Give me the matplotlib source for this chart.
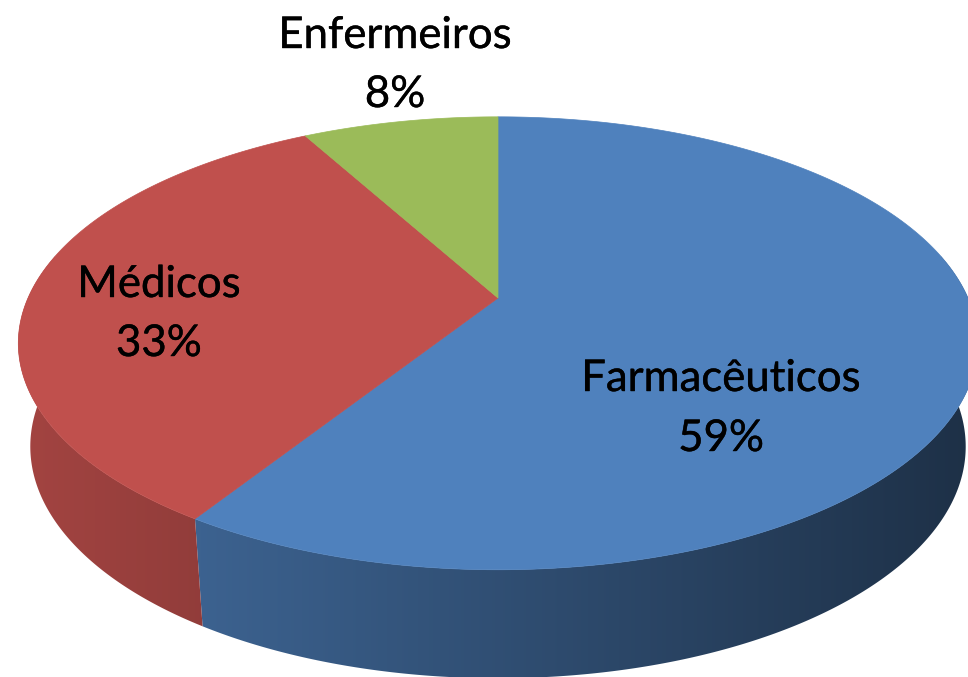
import numpy as np
import matplotlib
matplotlib.use("Agg")
import matplotlib.pyplot as plt
import matplotlib.patheffects as pe
from matplotlib.patches import Polygon
from matplotlib.colors import to_rgb

# ---- data ----
categories = ["Farmacêuticos", "Médicos", "Enfermeiros"]
values = [59, 33, 8]
colors = ["#4F81BD", "#C0504D", "#9BBB59"]

# ---- projection of a tilted 3D disc (perspective) ----
CX, CY = 498, 298          # apex of the pie
A, B, K = 470, 217.4, 0.2  # top face scale and perspective
H, K2, SX = 102, 0.06, 0.975  # side depth, its perspective, bottom-rim narrowing
W, HT = 968, 677


def top(phi):
    u, v = np.cos(phi), np.sin(phi)
    d = 1 + K * v
    return CX + A * u / d, CY - B * v / d


def bottom(phi):
    x, y = top(phi)
    v = np.sin(phi)
    return CX + SX * (x - CX), y + H / (1 + K2 * v)


def shade(x):
    return 0.86 - 0.0005 * x


fig = plt.figure(figsize=(9.68, 6.77), dpi=100)
ax = fig.add_axes([0, 0, 1, 1])
ax.axis("off")

total = float(sum(values))
fracs = np.array(values) / total
bounds = np.pi / 2 - 2 * np.pi * np.concatenate([[0], np.cumsum(fracs)])

# visible range of the side wall (front half)
VIS_HI, VIS_LO = 0.2, -np.pi - 0.2

xs_grid = np.arange(W) + 0.5
for i, col in enumerate(colors):
    a0, a1 = bounds[i], bounds[i + 1]
    hi, lo = min(a0, VIS_HI), max(a1, VIS_LO)
    if hi <= lo:
        continue
    ph = np.linspace(hi, lo, 400)
    tx, ty = top(ph)
    bx, by = bottom(ph)
    pts = list(zip(tx, ty)) + list(zip(bx[::-1], by[::-1]))
    clip = Polygon(pts, closed=True, facecolor="none", edgecolor="none",
                   transform=ax.transData)
    ax.add_patch(clip)
    base = np.array(to_rgb(col))
    row = np.clip(base[None, :] * shade(xs_grid)[:, None], 0, 1)
    img = np.repeat(row[None, :, :], 2, axis=0)
    im = ax.imshow(img, extent=[0, W, HT, 0], aspect="auto",
                   interpolation="bilinear", zorder=1)
    im.set_clip_path(clip)

# top faces
for i, col in enumerate(colors):
    a0, a1 = bounds[i], bounds[i + 1]
    ph = np.linspace(a0, a1, 400)
    tx, ty = top(ph)
    pts = [(CX, CY)] + list(zip(tx, ty))
    ax.add_patch(Polygon(pts, closed=True, facecolor=col, edgecolor=col,
                         lw=0.5, zorder=2))

# labels (name line baseline, percent line baseline)
label_pos = {
    "Farmacêuticos": (721, 391, 451),
    "Médicos": (159, 297, 356),
    "Enfermeiros": (395, 48, 107),
}
fx = [pe.withStroke(linewidth=0.3, foreground="black")]
for name, v in zip(categories, values):
    x, y1, y2 = label_pos[name]
    ax.text(x, y1, name, ha="center", va="baseline", fontsize=31.5,
            family=["Lato", "DejaVu Sans"], color="black", zorder=3,
            path_effects=fx)
    ax.text(x, y2, f"{v}%", ha="center", va="baseline", fontsize=31.5,
            family=["Lato", "DejaVu Sans"], color="black", zorder=3,
            path_effects=fx)

ax.set_xlim(0, W)
ax.set_ylim(HT, 0)
fig.savefig("out.png", dpi=100)
